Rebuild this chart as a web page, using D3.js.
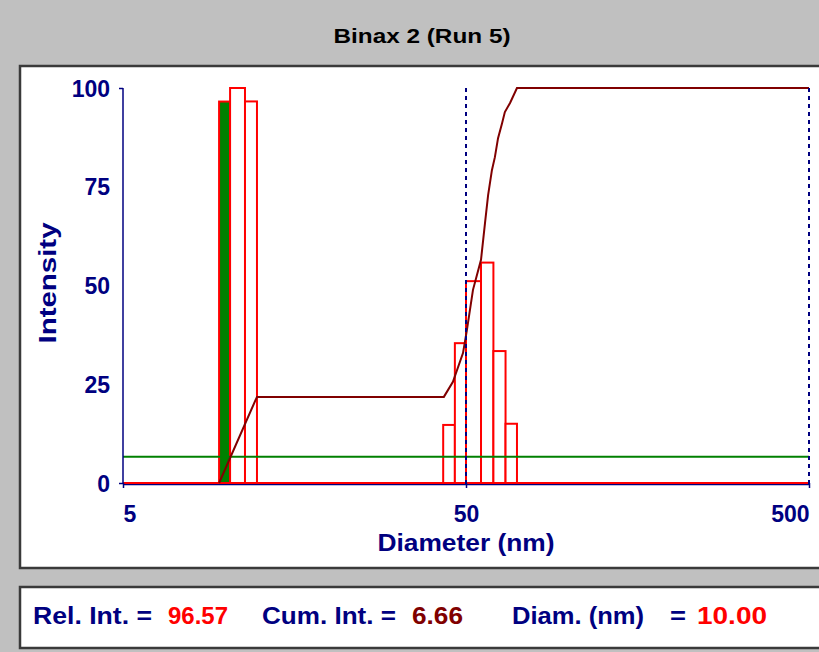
<!DOCTYPE html>
<html>
<head>
<meta charset="utf-8">
<script src="https://cdn.jsdelivr.net/npm/d3@7"></script>
<style>
  body { margin: 0; background: #c0c0c0; }
  svg text { font-family: "Liberation Sans", Arial, sans-serif; font-weight: bold; }
</style>
</head>
<body>
<div id="chart"></div>
<script>
// histogram bins (diameter edges in nm) and relative intensity
var diamLo = [9.53, 10.26, 11.34, 42.9, 46.4, 50.0, 55.3, 60.1, 65.2];
var diamHi = [10.26, 11.34, 12.29, 46.4, 50.0, 55.3, 60.1, 65.2, 70.4];
var relInt = [96.57, 100, 96.6, 14.7, 35.4, 51.1, 55.8, 33.4, 15.0];
var selected = 0;
var selectedDiam = 10.00;

// cumulative intensity curve
var cumDiam = [9.53, 12.29, 43.1, 45.8, 49.0, 50.3, 52.4, 55.3, 56.8, 58.0, 59.5, 60.7, 62.0, 63.7, 64.9, 67.2, 70.4, 500];
var cumInt  = [0, 21.8, 21.8, 25.6, 32.9, 38.7, 48.9, 56.5, 65.8, 72.9, 79.2, 82.5, 87.3, 91.1, 93.9, 96.2, 100, 100];
var cursorCum = 6.66;

var markerDiam = [50, 500];
var xTicks = [5, 50, 500];
var yTicks = [0, 25, 50, 75, 100];

var W = 819, H = 652;
var navy = "#000080", red = "#ff0000", darkRed = "#800000", green = "#008000";

var svg = d3.select("#chart").append("svg")
    .attr("width", W)
    .attr("height", H);

svg.append("rect").attr("width", W).attr("height", H).attr("fill", "#c0c0c0");

// title
svg.append("text")
    .attr("x", 422).attr("y", 43)
    .attr("text-anchor", "middle")
    .attr("font-size", 20)
    .attr("textLength", 177).attr("lengthAdjust", "spacingAndGlyphs")
    .attr("fill", "#000")
    .text("Binax 2 (Run 5)");

// panels
svg.append("rect")
    .attr("x", 20).attr("y", 66).attr("width", 840).attr("height", 502)
    .attr("fill", "#fff").attr("stroke", "#3a3a3a").attr("stroke-width", 2.5);
svg.append("rect")
    .attr("x", 20).attr("y", 587).attr("width", 840).attr("height", 61)
    .attr("fill", "#fff").attr("stroke", "#3a3a3a").attr("stroke-width", 2.5);

var x = d3.scaleLog().domain([5, 500]).range([123, 809]);
var y = d3.scaleLinear().domain([0, 100]).range([483, 88]);

var plot = svg.append("g");

// x axis line (blue, shows under bars)
plot.append("line")
    .attr("x1", x(5)).attr("x2", x(500))
    .attr("y1", y(0) + 1.5).attr("y2", y(0) + 1.5)
    .attr("stroke", navy).attr("stroke-width", 1.5);

// red baseline outside the bars
var bins = diamLo.map(function(d, i) { return {lo: d, hi: diamHi[i], v: relInt[i], i: i}; });
var gaps = [[5, bins[0].lo]];
for (var i = 0; i < bins.length - 1; i++) {
    if (bins[i].hi < bins[i + 1].lo) gaps.push([bins[i].hi, bins[i + 1].lo]);
}
gaps.push([bins[bins.length - 1].hi, 500]);
plot.selectAll("line.base").data(gaps).enter().append("line")
    .attr("class", "base")
    .attr("x1", function(d) { return x(d[0]); })
    .attr("x2", function(d) { return x(d[1]); })
    .attr("y1", y(0)).attr("y2", y(0))
    .attr("stroke", red).attr("stroke-width", 2);

// bars
plot.selectAll("rect.bar").data(bins).enter().append("rect")
    .attr("class", "bar")
    .attr("x", function(d) { return x(d.lo); })
    .attr("width", function(d) { return x(d.hi) - x(d.lo); })
    .attr("y", function(d) { return y(d.v); })
    .attr("height", function(d) { return y(0) - y(d.v); })
    .attr("fill", function(d) { return d.i === selected ? green : "#fff"; })
    .attr("stroke", red).attr("stroke-width", 2);

// cursor cumulative level
plot.append("line")
    .attr("x1", x(5)).attr("x2", x(500))
    .attr("y1", y(cursorCum)).attr("y2", y(cursorCum))
    .attr("stroke", green).attr("stroke-width", 2);

// cumulative curve
var cum = cumDiam.map(function(d, i) { return [d, cumInt[i]]; });
plot.append("path")
    .datum(cum)
    .attr("fill", "none")
    .attr("stroke", darkRed).attr("stroke-width", 2)
    .attr("d", d3.line().x(function(d) { return x(d[0]); }).y(function(d) { return y(d[1]); }));

// dashed markers
plot.selectAll("line.marker").data(markerDiam).enter().append("line")
    .attr("class", "marker")
    .attr("x1", function(d) { return x(d); }).attr("x2", function(d) { return x(d); })
    .attr("y1", y(100)).attr("y2", y(0) + 5)
    .attr("stroke", navy).attr("stroke-width", 2)
    .attr("stroke-dasharray", "4,4");

// y axis
var yAxis = plot.append("g")
    .attr("transform", "translate(" + x(5) + ",0)")
    .call(d3.axisLeft(y).tickValues(yTicks).tickSize(4).tickPadding(9));
yAxis.select(".domain").attr("stroke", navy).attr("stroke-width", 1.5).attr("d", "M0," + y(100) + "V" + y(0));
yAxis.selectAll(".tick line").attr("stroke", navy).attr("stroke-width", 1.5)
    .attr("opacity", function(d) { return d === 0 || d === 100 ? 1 : 0; });
yAxis.selectAll(".tick text")
    .attr("fill", navy).attr("font-size", 23)
    .attr("font-family", null).attr("font-weight", null)
    .attr("dy", "0.35em");

// x axis
var xAxis = plot.append("g")
    .attr("transform", "translate(0," + y(0) + ")")
    .call(d3.axisBottom(x).tickValues(xTicks).tickFormat(d3.format("d")).tickSize(5).tickPadding(18));
xAxis.select(".domain").remove();
xAxis.selectAll(".tick line").attr("stroke", navy).attr("stroke-width", 1.5);
xAxis.selectAll(".tick text")
    .attr("fill", navy).attr("font-size", 23)
    .attr("font-family", null).attr("font-weight", null)
    .attr("text-anchor", function(d, i) { return i === 0 ? "start" : (i === xTicks.length - 1 ? "end" : "middle"); });

// axis titles
svg.append("text")
    .attr("transform", "translate(56,283) rotate(-90)")
    .attr("text-anchor", "middle")
    .attr("font-size", 24)
    .attr("textLength", 121).attr("lengthAdjust", "spacingAndGlyphs")
    .attr("fill", navy)
    .text("Intensity");
svg.append("text")
    .attr("x", 466).attr("y", 551)
    .attr("text-anchor", "middle")
    .attr("font-size", 24)
    .attr("textLength", 177).attr("lengthAdjust", "spacingAndGlyphs")
    .attr("fill", navy)
    .text("Diameter (nm)");

// readout
var fmt = d3.format(".2f");
var readout = [
    {t: "Rel. Int. =", x: 33, c: navy, w: 119},
    {t: fmt(relInt[selected]), x: 168, c: red, w: 60},
    {t: "Cum. Int. =", x: 262, c: navy, w: 134},
    {t: fmt(cursorCum), x: 412, c: darkRed, w: 51},
    {t: "Diam. (nm)", x: 512, c: navy, w: 132},
    {t: "=", x: 670, c: navy, w: 16},
    {t: fmt(selectedDiam), x: 697, c: red, w: 70}
];
svg.selectAll("text.readout").data(readout).enter().append("text")
    .attr("class", "readout")
    .attr("x", function(d) { return d.x; })
    .attr("y", 624)
    .attr("font-size", 24)
    .attr("textLength", function(d) { return d.w; })
    .attr("lengthAdjust", "spacingAndGlyphs")
    .attr("fill", function(d) { return d.c; })
    .text(function(d) { return d.t; });
</script>
</body>
</html>
